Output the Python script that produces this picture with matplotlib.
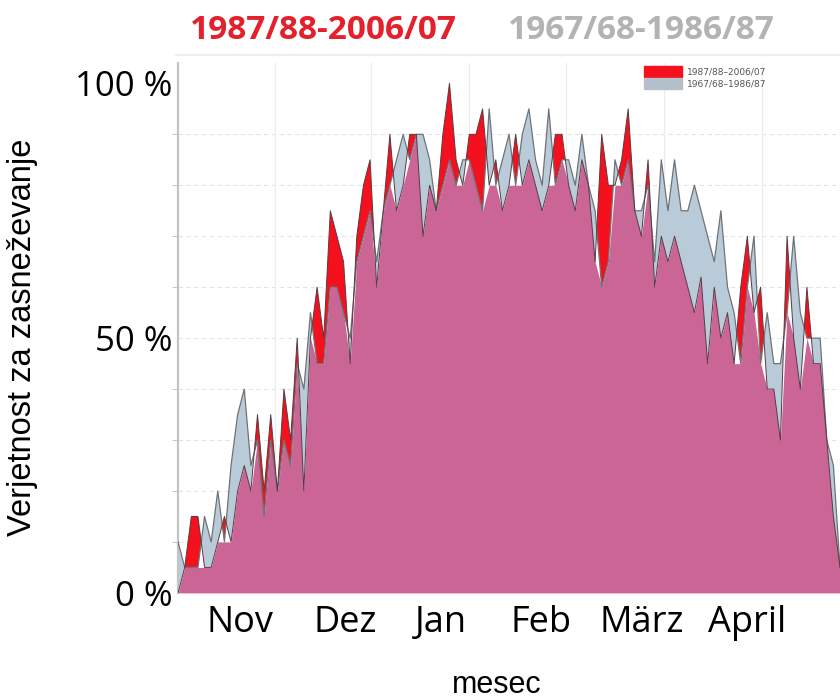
import numpy as np
import matplotlib.pyplot as plt
from matplotlib.patches import Patch
from matplotlib.lines import Line2D

# days counted from 27 Oct, one sample every second day
days = np.arange(0, 201, 2)

# share of winters with snow cover (%), 1987/88-2006/07
p_new = [0, 5, 15, 15, 5, 5, 10, 15, 10, 20, 25, 20, 35, 20, 35, 20, 40, 30, 50, 20,
         50, 60, 50, 75, 70, 65, 45, 70, 80, 85, 60, 75, 90, 75, 80, 90, 90, 70, 80, 75,
         90, 100, 85, 80, 90, 90, 95, 80, 85, 75, 80, 90, 80, 85, 80, 75, 80, 90, 90, 80,
         75, 85, 80, 65, 90, 80, 80, 85, 95, 75, 70, 85, 60, 70, 65, 70, 65, 60, 55, 62,
         45, 60, 50, 55, 45, 60, 70, 55, 60, 40, 40, 30, 70, 50, 40, 60, 45, 45, 30, 15,
         5]

# share of winters with snow cover (%), 1967/68-1986/87
p_old = [10, 5, 5, 5, 15, 10, 20, 10, 25, 35, 40, 25, 30, 15, 30, 20, 30, 25, 45, 40,
         55, 45, 45, 60, 60, 55, 50, 65, 70, 75, 65, 75, 80, 85, 90, 85, 90, 90, 85, 75,
         80, 85, 80, 85, 85, 80, 75, 95, 80, 85, 90, 80, 90, 95, 85, 80, 95, 80, 85, 85,
         80, 90, 80, 75, 60, 65, 85, 80, 85, 75, 75, 80, 65, 85, 75, 85, 75, 75, 80, 75,
         70, 65, 75, 60, 55, 45, 60, 70, 45, 55, 45, 45, 55, 70, 55, 50, 50, 50, 30, 25,
         5]

month_pos = [18.8, 50.6, 79.4, 109.7, 140.0, 171.8]
month_labels = ['Nov', 'Dez', 'Jan', 'Feb', 'März', 'April']
grid_days = [29.4, 58.2, 87.9, 117.3, 146.7, 176.4]

p_new = np.array(p_new, dtype=float)
p_old = np.array(p_old, dtype=float)

pink = '#CB6595'
red = '#F4101C'
blue = '#B9CBD8'

fig = plt.figure(figsize=(8.4, 7.0), dpi=100)
ax = fig.add_axes([0.212, 0.153, 0.79, 0.757])

for y in range(10, 100, 10):
    ax.axhline(y, color='#e4e4e4', lw=0.8, ls=(0, (4, 3)), zorder=0)
for d in grid_days:
    ax.axvline(d, color='#ececec', lw=0.8, zorder=0)

# overlap of both periods in pink, the surplus of each on top
low = np.minimum(p_new, p_old)
ax.fill_between(days, 0, low, color=pink, lw=0, zorder=2)
ax.fill_between(days, p_old, p_new, where=p_new >= p_old, interpolate=True,
                color=red, lw=0, zorder=2)
ax.fill_between(days, p_new, p_old, where=p_old >= p_new, interpolate=True,
                color=blue, lw=0, zorder=2)
ax.plot(days, p_old, color='#6f7378', lw=0.9, zorder=3)
ax.plot(days, p_new, color='#5a3a44', lw=0.7, zorder=3)

ax.set_xlim(0, 200.5)
ax.set_ylim(0, 104)
for s in ['top', 'right', 'bottom']:
    ax.spines[s].set_visible(False)
ax.spines['left'].set_color('#c4c4c4')
ax.spines['left'].set_linewidth(1.6)

ax.set_yticks([0, 50, 100])
ax.set_yticklabels(['0 %', '50 %', '100 %'], fontfamily='Open Sans', fontsize=25)
ax.set_yticks(range(10, 100, 10), minor=True)
ax.tick_params(axis='y', which='major', length=0, pad=4)
ax.tick_params(axis='y', which='minor', length=4, color='#bbbbbb')
ax.set_xticks(month_pos)
ax.set_xticklabels(month_labels, fontfamily='Open Sans', fontsize=26)
ax.tick_params(axis='x', length=0, pad=9)

leg = ax.legend(handles=[Patch(color=red, label='1987/88–2006/07'),
                         Patch(color='#b3c0cb', label='1967/68–1986/87')],
                loc='upper left', bbox_to_anchor=(0.69, 1.01), frameon=False,
                fontsize=6.5, handlelength=4.2, handleheight=1.5,
                handletextpad=0.6, labelspacing=0.15)
for t in leg.get_texts():
    t.set_color('#555555')

fig.text(0.385, 0.957, '1987/88-2006/07', color='#E3202B', fontsize=24,
         fontweight='bold', fontfamily='Open Sans', ha='center', va='center')
fig.text(0.763, 0.957, '1967/68-1986/87', color='#B3B3B3', fontsize=24,
         fontweight='bold', fontfamily='Open Sans', ha='center', va='center')
fig.add_artist(Line2D([0.21, 1.0], [0.921, 0.921], color='#eeeeee', lw=1.5))

fig.text(0.027, 0.518, 'Verjetnost za zasneževanje', rotation=90,
         fontfamily='Liberation Sans', fontsize=23.5, ha='center', va='center')
fig.text(0.592, 0.022, 'mesec', fontfamily='Liberation Sans', fontsize=22,
         ha='center', va='center')

fig.savefig('out.png', dpi=100)
